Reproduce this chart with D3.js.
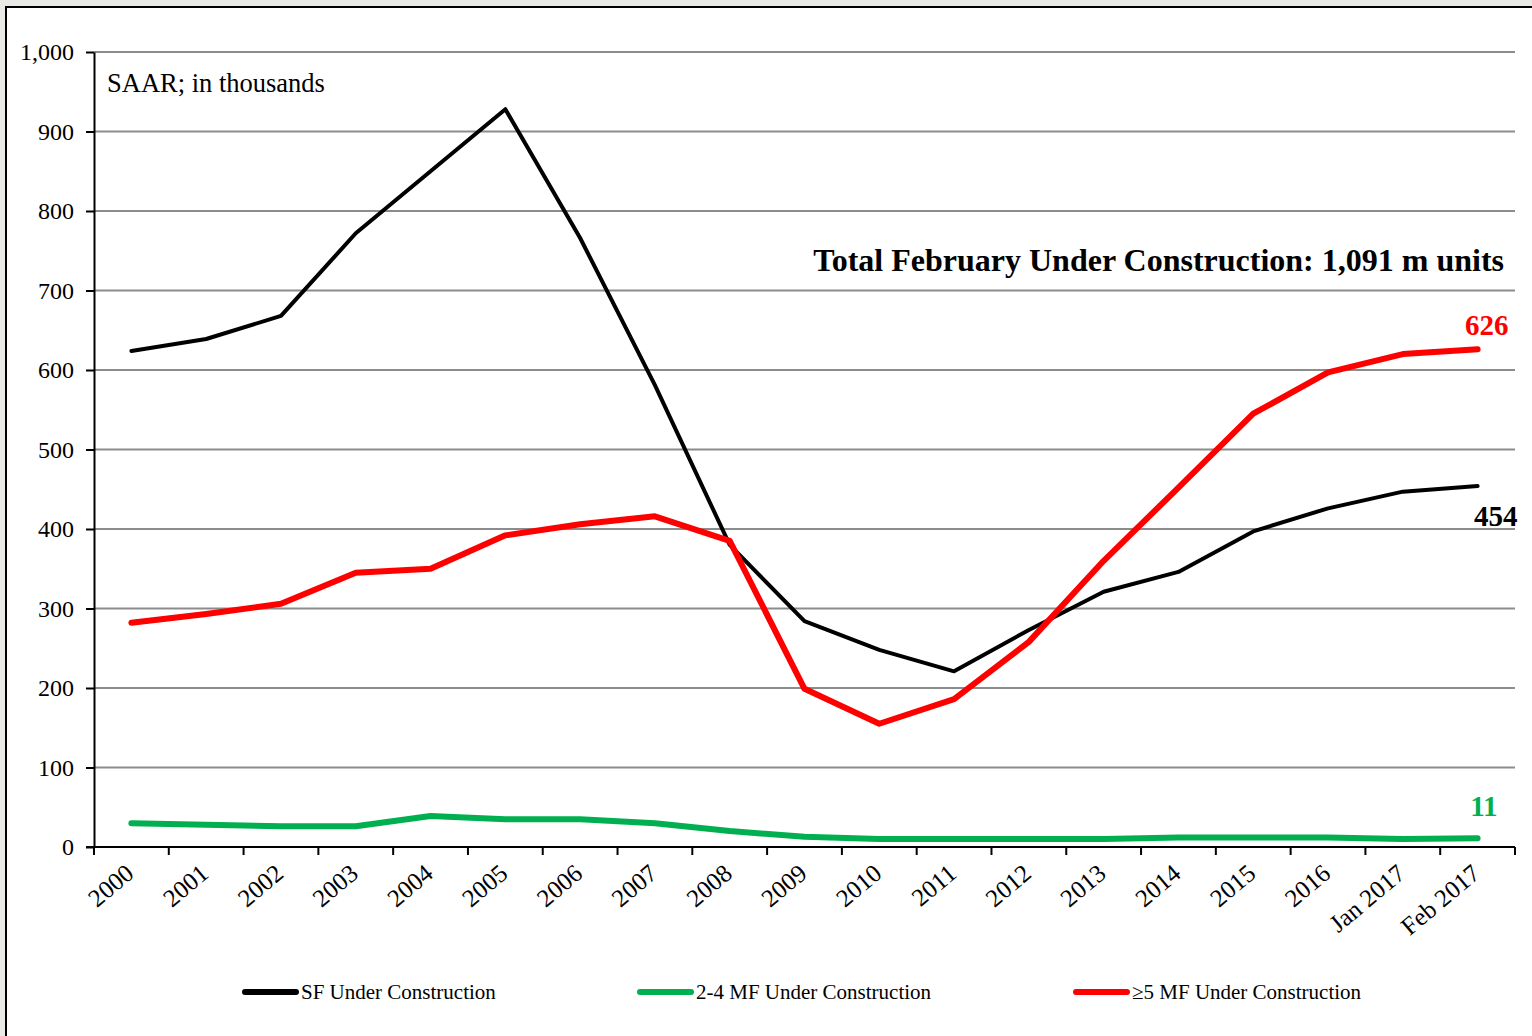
<!DOCTYPE html>
<html>
<head>
<meta charset="utf-8">
<script src="https://cdn.jsdelivr.net/npm/d3@7"></script>
<style>
  html, body { margin: 0; padding: 0; background: #e9e9e6; }
  svg { display: block; }
  text { font-family: "Liberation Serif", "Times New Roman", serif; }
</style>
</head>
<body>
<div id="chart"></div>
<script>
// Categories along the x axis
const categories = ['2000', '2001', '2002', '2003', '2004', '2005', '2006', '2007', '2008',
  '2009', '2010', '2011', '2012', '2013', '2014', '2015', '2016', 'Jan 2017', 'Feb 2017'];

// Series values (thousands, SAAR)
const sfValues = [624, 639, 668, 772, 850, 928, 766, 581, 380, 284, 248, 221, 273, 321, 346, 397, 426, 447, 454];
const mf24Values = [30, 28, 26, 26, 39, 35, 35, 30, 20, 13, 10, 10, 10, 10, 12, 12, 12, 10, 11];
const mf5Values = [282, 293, 306, 345, 350, 392, 406, 416, 385, 199, 155, 186, 258, 360, 452, 545, 597, 620, 626];

const yTicks = [0, 100, 200, 300, 400, 500, 600, 700, 800, 900, 1000];

const series = [
  { name: 'SF Under Construction', values: sfValues, color: '#000000', last: '454' },
  { name: '2-4 MF Under Construction', values: mf24Values, color: '#00b050', last: '11' },
  { name: '\u22655 MF Under Construction', values: mf5Values, color: '#ff0000', last: '626' }
];

const W = 1532, H = 1036;
const m = { top: 52, right: 17, bottom: 189, left: 94 };

const svg = d3.select('#chart').append('svg')
  .attr('width', W)
  .attr('height', H);

// white panel with frame
svg.append('rect')
  .attr('x', 6).attr('y', 7)
  .attr('width', W + 10).attr('height', H + 10)
  .attr('fill', '#fff')
  .attr('stroke', '#000')
  .attr('stroke-width', 2);

const x = d3.scaleBand()
  .domain(categories)
  .range([m.left, W - m.right]);

const y = d3.scaleLinear()
  .domain([0, 1000])
  .range([H - m.bottom, m.top]);

// gridlines
svg.append('g')
  .selectAll('line')
  .data(yTicks.filter(d => d > 0))
  .enter().append('line')
  .attr('x1', m.left).attr('x2', W - m.right)
  .attr('y1', d => y(d)).attr('y2', d => y(d))
  .attr('stroke', '#8c8c8c')
  .attr('stroke-width', 2);

// y axis
const yAxis = svg.append('g')
  .attr('transform', `translate(${m.left},0)`)
  .call(d3.axisLeft(y).tickValues(yTicks).tickSize(8).tickSizeOuter(0).tickPadding(12)
    .tickFormat(d3.format(',')));
yAxis.select('.domain').attr('stroke', '#000').attr('stroke-width', 2);
yAxis.selectAll('.tick line').attr('stroke', '#000').attr('stroke-width', 2);
yAxis.selectAll('.tick text')
  .attr('font-size', 24)
  .attr('fill', '#000')
  .attr('font-family', '"Liberation Serif", serif');

// x axis with ticks at category boundaries
const xg = svg.append('g')
  .attr('transform', `translate(0,${y(0)})`);
xg.append('line')
  .attr('x1', m.left - 8).attr('x2', W - m.right)
  .attr('stroke', '#000').attr('stroke-width', 2);
xg.selectAll('.xt')
  .data(categories.concat(['__end']))
  .enter().append('line')
  .attr('class', 'xt')
  .attr('x1', (d, i) => i < categories.length ? x(d) : x.range()[1])
  .attr('x2', (d, i) => i < categories.length ? x(d) : x.range()[1])
  .attr('y1', 0).attr('y2', 8)
  .attr('stroke', '#000').attr('stroke-width', 2);
xg.selectAll('.xl')
  .data(categories)
  .enter().append('text')
  .attr('class', 'xl')
  .attr('transform', d => `translate(${x(d) + x.bandwidth() / 2 + 4},${29}) rotate(-40)`)
  .attr('text-anchor', 'end')
  .attr('font-size', 25)
  .attr('fill', '#000')
  .text(d => d);

// lines
const line = d3.line()
  .x((d, i) => x(categories[i]) + x.bandwidth() / 2)
  .y(d => y(d));

// draw order: green, black, red on top
[series[1], series[0], series[2]].forEach(s => {
  svg.append('path')
    .datum(s.values)
    .attr('d', line)
    .attr('fill', 'none')
    .attr('stroke', s.color)
    .attr('stroke-width', s.color === '#000000' ? 4 : 6)
    .attr('stroke-linejoin', 'round')
    .attr('stroke-linecap', 'round');
});

// texts
svg.append('text')
  .attr('x', 107).attr('y', 92)
  .attr('font-size', 26.5)
  .attr('fill', '#000')
  .text('SAAR; in thousands');

svg.append('text')
  .attr('x', 1504).attr('y', 271)
  .attr('text-anchor', 'end')
  .attr('font-size', 32)
  .attr('font-weight', 'bold')
  .attr('fill', '#000')
  .text('Total February Under Construction: 1,091 m units');

const lastX = x(categories[categories.length - 1]) + x.bandwidth() / 2;
const endLabels = [
  { s: series[2], v: mf5Values[mf5Values.length - 1], dx: 31, dy: -14 },
  { s: series[0], v: sfValues[sfValues.length - 1], dx: 40, dy: 40 },
  { s: series[1], v: mf24Values[mf24Values.length - 1], dx: 20, dy: -22 }
];
endLabels.forEach(l => {
  svg.append('text')
    .attr('x', lastX + l.dx)
    .attr('y', y(l.v) + l.dy)
    .attr('text-anchor', 'end')
    .attr('font-size', 29)
    .attr('font-weight', 'bold')
    .attr('fill', l.s.color)
    .text(l.s.last);
});

// legend
const legendX = [245, 640, 1076];
const lg = svg.append('g');
series.forEach((s, i) => {
  lg.append('line')
    .attr('x1', legendX[i]).attr('x2', legendX[i] + 51)
    .attr('y1', 992).attr('y2', 992)
    .attr('stroke', s.color)
    .attr('stroke-width', 6)
    .attr('stroke-linecap', 'round');
  lg.append('text')
    .attr('x', legendX[i] + 56)
    .attr('y', 999)
    .attr('font-size', 21)
    .attr('fill', '#000')
    .text(s.name);
});
</script>
</body>
</html>
